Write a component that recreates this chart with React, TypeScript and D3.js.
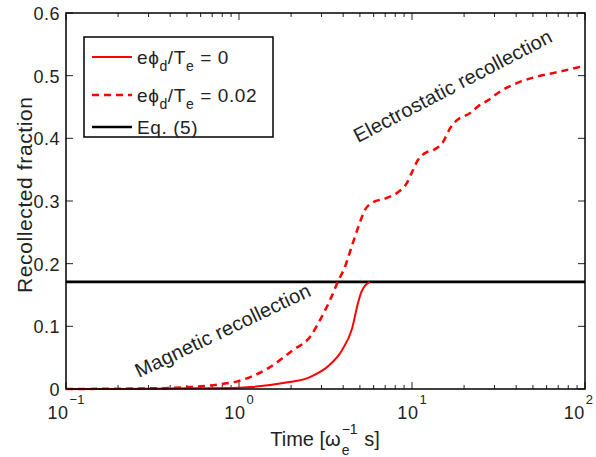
import React, { useRef, useEffect } from "react";
import * as d3 from "d3";

// time [1/omega_e] and recollected fraction
const solidTime = [0.1, 0.2, 0.5, 1.0, 1.16, 1.8, 2.57, 3.36, 3.94, 4.5, 4.87, 5.1, 5.35, 5.7];
const solidFrac = [0, 0, 0.001, 0.002, 0.003, 0.0096, 0.019, 0.039, 0.062, 0.096, 0.137, 0.155, 0.165, 0.171];

const dashedTime = [
  0.1, 0.3, 0.52, 0.8, 1.0, 1.16, 1.51, 2.05, 2.57, 2.94, 3.36, 3.74, 4.1, 4.38, 4.68, 5.0,
  5.35, 5.87, 7.16, 8.3, 9.35, 10, 10.8, 12.2, 13.2, 15.1, 16.6, 18.2, 21.6, 24.6, 27.6, 32,
  42, 52, 65, 81, 100,
];
const dashedFrac = [
  0, 0.001, 0.003, 0.008, 0.013, 0.019, 0.035, 0.062, 0.083, 0.11, 0.142, 0.172, 0.195, 0.219,
  0.243, 0.266, 0.286, 0.297, 0.305, 0.314, 0.329, 0.346, 0.365, 0.378, 0.381, 0.394, 0.416,
  0.429, 0.44, 0.453, 0.461, 0.474, 0.49, 0.498, 0.504, 0.51, 0.516,
];

const eq5Level = 0.171;

const xMajor = [0.1, 1, 10, 100];
const xExponents = ["\u22121", "0", "1", "2"];
const yTicks = [0, 0.1, 0.2, 0.3, 0.4, 0.5, 0.6];

const FONT = "'Liberation Sans', Arial, Helvetica, sans-serif";
const INK = "#222";

const App = () => {
  const ref = useRef(null);

  useEffect(() => {
    const svg = d3.select(ref.current);
    svg.selectAll("*").remove();

    const margin = { top: 13, right: 11, bottom: 68, left: 66 };
    const W = 596, H = 457;
    const width = W - margin.left - margin.right;
    const height = H - margin.top - margin.bottom;

    const x = d3.scaleLog().domain([0.1, 100]).range([0, width]);
    const y = d3.scaleLinear().domain([0, 0.6]).range([height, 0]);

    const g = svg.append("g").attr("transform", `translate(${margin.left},${margin.top})`);

    // minor + major ticks (inward, top and bottom)
    const minor = [];
    for (let e = -1; e < 2; e++) for (let k = 2; k <= 9; k++) minor.push(k * Math.pow(10, e));
    minor.forEach((t) => {
      g.append("line").attr("x1", x(t)).attr("x2", x(t)).attr("y1", height).attr("y2", height - 4)
        .attr("stroke", INK).attr("stroke-width", 1);
      g.append("line").attr("x1", x(t)).attr("x2", x(t)).attr("y1", 0).attr("y2", 4)
        .attr("stroke", INK).attr("stroke-width", 1);
    });
    xMajor.forEach((t, i) => {
      g.append("line").attr("x1", x(t)).attr("x2", x(t)).attr("y1", height).attr("y2", height - 7)
        .attr("stroke", INK).attr("stroke-width", 1);
      g.append("line").attr("x1", x(t)).attr("x2", x(t)).attr("y1", 0).attr("y2", 7)
        .attr("stroke", INK).attr("stroke-width", 1);
      const lab = g.append("g");
      const base = lab.append("text").attr("y", height + 30).attr("font-size", 18)
        .attr("letter-spacing", 0.5).attr("fill", INK).text("10");
      const bw = base.node().getComputedTextLength();
      const sup = lab.append("text").attr("x", bw + 1).attr("y", height + 15).attr("font-size", 13)
        .attr("fill", INK).text(xExponents[i]);
      const total = bw + 1 + sup.node().getComputedTextLength();
      let left = x(t) - total / 2;
      if (margin.left + left + total > W - 3) left = W - 3 - margin.left - total;
      lab.attr("transform", `translate(${left},0)`);
    });
    yTicks.forEach((v) => {
      g.append("line").attr("x1", 0).attr("x2", 7).attr("y1", y(v)).attr("y2", y(v))
        .attr("stroke", INK).attr("stroke-width", 1);
      g.append("line").attr("x1", width).attr("x2", width - 7).attr("y1", y(v)).attr("y2", y(v))
        .attr("stroke", INK).attr("stroke-width", 1);
      g.append("text").attr("x", -6).attr("y", y(v) + 7).attr("text-anchor", "end")
        .attr("font-size", 18).attr("letter-spacing", 0.5).attr("fill", INK).text(d3.format("")(v));
    });

    const line = d3.line().x((d) => x(d[0])).y((d) => y(d[1])).curve(d3.curveMonotoneX);

    // Eq. (5)
    g.append("line").attr("x1", 0).attr("x2", width).attr("y1", y(eq5Level)).attr("y2", y(eq5Level))
      .attr("stroke", "#000").attr("stroke-width", 2.6);

    g.append("path").datum(d3.zip(dashedTime, dashedFrac)).attr("d", line)
      .attr("fill", "none").attr("stroke", "#ff0000").attr("stroke-width", 2.5)
      .attr("stroke-dasharray", "7,5");
    g.append("path").datum(d3.zip(solidTime, solidFrac)).attr("d", line)
      .attr("fill", "none").attr("stroke", "#ff0000").attr("stroke-width", 2);

    // axes box
    g.append("rect").attr("width", width).attr("height", height)
      .attr("fill", "none").attr("stroke", "#000").attr("stroke-width", 1.5);

    // annotations
    svg.append("text").attr("transform", "translate(139,378) rotate(-25.5)")
      .attr("font-size", 20).attr("letter-spacing", 0.2).attr("fill", INK).text("Magnetic recollection");
    svg.append("text").attr("transform", "translate(358,143) rotate(-27.5)")
      .attr("font-size", 20).attr("letter-spacing", 0.2).attr("fill", INK).text("Electrostatic recollection");

    // legend
    const lg = svg.append("g").attr("transform", "translate(84,37)");
    lg.append("rect").attr("width", 189).attr("height", 100).attr("fill", "#fff")
      .attr("stroke", "#000").attr("stroke-width", 1.5);
    const rows = [
      { y: 20, dash: null, color: "#ff0000", w: 2, val: " = 0" },
      { y: 58, dash: "7,5", color: "#ff0000", w: 2.5, val: " = 0.02" },
      { y: 90, dash: null, color: "#000", w: 2.6, val: null },
    ];
    rows.forEach((r) => {
      lg.append("line").attr("x1", 8).attr("x2", 48).attr("y1", r.y).attr("y2", r.y)
        .attr("stroke", r.color).attr("stroke-width", r.w).attr("stroke-dasharray", r.dash);
      const t = lg.append("text").attr("x", 53).attr("y", r.y + 7).attr("font-size", 19)
        .attr("letter-spacing", 0.6).attr("fill", INK);
      if (r.val) {
        t.append("tspan").text("e\u03d5");
        t.append("tspan").attr("dy", 7).attr("font-size", 14).text("d");
        t.append("tspan").attr("dy", -7).text("/T");
        t.append("tspan").attr("dy", 7).attr("font-size", 14).text("e");
        t.append("tspan").attr("dy", -7).text(r.val);
      } else {
        t.text("Eq. (5)");
      }
    });

    // x axis label, centred as a whole
    const xl = svg.append("g").attr("fill", INK).attr("font-size", 20);
    const t1 = xl.append("text").attr("x", 0).attr("y", 446).text("Time [\u03c9");
    const w1 = t1.node().getComputedTextLength();
    const sp = xl.append("text").attr("x", w1 + 1).attr("y", 434).attr("font-size", 14).text("\u22121");
    xl.append("text").attr("x", w1 + 1).attr("y", 455).attr("font-size", 14).text("e");
    const w2 = sp.node().getComputedTextLength();
    const t3 = xl.append("text").attr("x", w1 + w2 + 2).attr("y", 446).attr("xml:space", "preserve")
      .style("white-space", "pre").text(" s]");
    const total = w1 + w2 + 2 + t3.node().getComputedTextLength();
    xl.attr("transform", `translate(${325 - total / 2},0)`);

    svg.append("text").attr("transform", "translate(32,195) rotate(-90)").attr("text-anchor", "middle")
      .attr("font-size", 21).attr("textLength", 196).attr("lengthAdjust", "spacing")
      .attr("fill", INK).text("Recollected fraction");
  }, []);

  return (
    <svg
      ref={ref}
      width={596}
      height={457}
      style={{ position: "absolute", left: 0, top: 0, background: "#fff", fontFamily: FONT }}
    />
  );
};

export default App;
